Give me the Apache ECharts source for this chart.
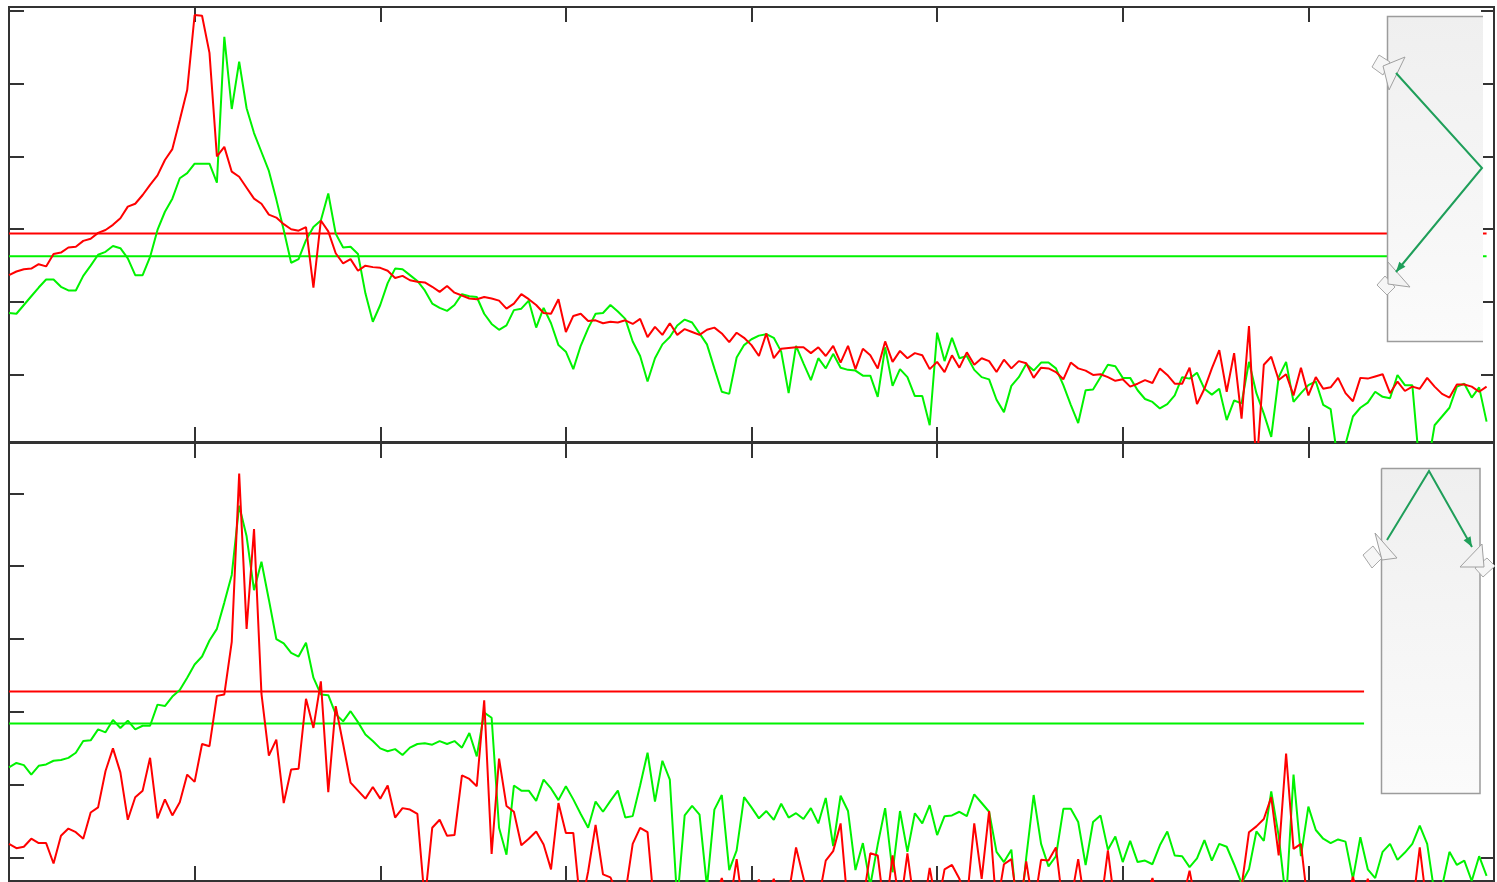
<!DOCTYPE html>
<html>
<head>
<meta charset="utf-8">
<script src="https://cdn.jsdelivr.net/npm/echarts@6/dist/echarts.min.js"></script>
<style>
  html, body { margin: 0; padding: 0; background: #ffffff; }
  #chart { width: 1497px; height: 882px; }
</style>
</head>
<body>
<div id="chart"></div>
<script>
// Spectral bins: 200 bins, 40 Hz apart, x axis in kHz
const BIN_KHZ = 0.04;

// Upper panel (dB)
const topRed = [
  -36.3, -35.8, -35.5, -35.4, -34.8, -35.1, -33.4, -33.2, -32.5, -32.4,
  -31.6, -31.3, -30.5, -30.1, -29.4, -28.5, -26.9, -26.5, -25.3, -23.9,
  -22.6, -20.5, -19.0, -15.0, -10.9, -0.6, -0.7, -5.8, -20.0, -18.7,
  -22.1, -22.8, -24.3, -25.8, -26.5, -28.0, -28.4, -29.3, -30.0, -30.2,
  -29.7, -38.0, -28.8, -30.3, -33.3, -34.7, -34.1, -35.7, -35.0, -35.2,
  -35.3, -35.7, -36.7, -36.4, -37.0, -37.2, -37.3, -37.9, -38.6, -37.8,
  -38.7, -39.1, -39.5, -39.6, -39.3, -39.5, -39.8, -40.9, -40.2, -38.9,
  -39.6, -40.4, -41.5, -41.6, -39.6, -44.1, -41.9, -41.6, -42.6, -42.5,
  -42.9, -42.7, -42.8, -42.5, -43.0, -42.3, -44.8, -43.4, -44.5, -42.9,
  -44.5, -43.7, -44.1, -44.5, -43.8, -43.5, -44.3, -45.5, -44.2, -44.9,
  -45.9, -47.4, -44.3, -47.7, -46.4, -46.3, -46.2, -46.2, -47.0, -46.2,
  -47.4, -46.0, -48.3, -46.0, -49.2, -46.4, -47.3, -49.1, -45.4, -48.2,
  -46.7, -47.7, -47.0, -47.3, -49.2, -48.2, -49.6, -47.3, -49.0, -46.9,
  -48.6, -47.7, -48.1, -49.6, -47.9, -49.1, -48.1, -48.4, -50.4, -49.0,
  -49.1, -49.6, -50.6, -48.3, -49.1, -49.4, -50.0, -49.9, -50.3, -50.8,
  -50.6, -51.6, -51.2, -50.7, -51.1, -49.1, -50.0, -51.2, -51.2, -49.0,
  -54.0, -51.9, -49.1, -46.6, -52.3, -47.0, -56.0, -43.3, -63.0, -48.6,
  -47.5, -50.7, -49.9, -52.8, -49.0, -52.8, -50.3, -51.9, -51.7, -50.4,
  -52.5, -53.6, -50.4, -50.5, -50.2, -49.9, -52.5, -50.9, -52.2, -51.6,
  -51.9, -50.4, -51.6, -52.6, -53.1, -51.3, -51.3, -51.6, -52.3, -51.6
];
const topGreen = [
  -41.5, -41.6, -40.4, -39.2, -38.0, -36.9, -36.9, -37.9, -38.4, -38.4,
  -36.4, -35.0, -33.5, -33.1, -32.3, -32.6, -34.0, -36.3, -36.3, -33.8,
  -30.1, -27.6, -25.8, -23.0, -22.3, -21.0, -21.0, -21.0, -23.6, -3.6,
  -13.5, -7.0, -13.4, -16.8, -19.4, -22.0, -25.9, -30.1, -34.6, -34.1,
  -31.5, -29.7, -28.8, -25.1, -30.6, -32.5, -32.4, -33.4, -38.8, -42.7,
  -40.4, -37.4, -35.4, -35.5, -36.3, -37.1, -38.4, -40.2, -40.8, -41.2,
  -40.4, -38.9, -39.2, -39.3, -41.6, -43.0, -43.8, -43.2, -41.1, -40.9,
  -39.8, -43.5, -40.8, -42.9, -45.9, -46.8, -49.2, -46.0, -43.6, -41.6,
  -41.5, -40.4, -41.3, -42.3, -45.4, -47.4, -50.9, -47.7, -45.8, -44.8,
  -43.2, -42.4, -42.8, -44.3, -45.8, -49.1, -52.3, -52.6, -47.6, -45.9,
  -45.1, -44.6, -44.4, -44.9, -46.8, -52.5, -46.0, -48.4, -50.7, -47.7,
  -49.1, -47.1, -49.0, -49.3, -49.4, -50.1, -50.1, -53.0, -46.2, -51.5,
  -49.2, -50.3, -52.9, -52.9, -56.9, -44.2, -48.1, -44.9, -47.7, -47.4,
  -49.3, -50.3, -50.6, -53.4, -55.1, -51.5, -50.3, -48.5, -49.4, -48.3,
  -48.3, -49.1, -51.4, -54.1, -56.6, -52.1, -52.0, -50.3, -48.6, -48.8,
  -50.4, -50.4, -52.1, -53.3, -53.7, -54.6, -54.0, -52.8, -50.3, -50.5,
  -49.7, -51.9, -52.7, -51.9, -56.2, -53.5, -53.9, -48.2, -52.5, -55.3,
  -58.5, -50.3, -48.2, -53.7, -52.5, -51.4, -50.9, -54.1, -54.7, -62.0,
  -59.5, -55.7, -54.5, -53.8, -52.3, -53.0, -53.2, -50.0, -51.4, -51.4,
  -63.0, -63.0, -56.9, -55.7, -54.5, -51.6, -51.2, -53.1, -51.7, -56.4
];

// Lower panel (dB)
const bottomRed = [
  -48.1, -48.7, -48.5, -47.4, -48.0, -48.0, -50.8, -47.0, -46.0, -46.5,
  -47.4, -43.8, -43.1, -38.1, -35.0, -38.3, -44.8, -41.7, -40.8, -36.3,
  -44.6, -42.0, -44.2, -42.4, -38.6, -39.6, -34.4, -34.7, -27.8, -27.6,
  -20.4, 2.7, -18.6, -4.9, -27.5, -36.0, -33.8, -42.5, -37.9, -37.8,
  -28.2, -32.2, -25.8, -41.0, -29.2, -34.4, -39.7, -40.8, -41.9, -40.3,
  -41.9, -40.1, -44.5, -43.2, -43.4, -44.0, -56.0, -45.9, -44.8, -47.0,
  -46.9, -38.7, -39.2, -40.2, -28.4, -49.5, -36.4, -42.9, -43.7, -48.3,
  -47.4, -46.4, -48.2, -51.6, -42.5, -46.6, -46.6, -57.0, -51.9, -45.5,
  -52.3, -52.7, -55.0, -55.0, -48.1, -45.9, -46.5, -58.0, -60.0, -58.0,
  -57.0, -59.0, -58.0, -60.0, -57.0, -56.0, -52.8, -57.0, -50.2, -58.0,
  -56.0, -53.0, -56.0, -52.9, -57.0, -55.0, -48.6, -52.8, -57.0, -56.0,
  -50.4, -49.1, -45.3, -57.0, -58.0, -56.0, -49.4, -49.7, -58.0, -49.7,
  -57.0, -49.4, -57.0, -58.0, -51.4, -57.0, -51.6, -51.0, -52.9, -56.0,
  -45.3, -52.9, -43.6, -57.0, -50.9, -50.2, -58.0, -50.5, -57.0, -50.3,
  -50.4, -48.6, -57.0, -56.0, -50.2, -57.0, -58.0, -57.0, -49.0, -57.0,
  -58.0, -57.0, -59.0, -56.0, -52.8, -57.0, -58.0, -57.0, -56.0, -51.8,
  -57.0, -58.0, -59.0, -57.0, -58.0, -60.0, -54.0, -46.5, -45.7, -44.7,
  -41.7, -49.7, -35.7, -48.8, -48.1, -57.0, -58.0, -59.0, -57.0, -58.0,
  -57.0, -52.6, -57.0, -52.9, -57.0, -58.0, -59.0, -57.0, -58.0, -57.0,
  -48.6, -57.0, -59.0, -58.0, -57.0, -58.0, -57.0, -59.0, -58.0, -57.0
];
const bottomGreen = [
  -37.6, -37.0, -37.3, -38.6, -37.4, -37.2, -36.7, -36.6, -36.3, -35.6,
  -34.0, -33.9, -32.4, -32.8, -31.1, -32.2, -31.2, -32.4, -31.9, -31.9,
  -29.0, -29.2, -27.9, -27.0, -25.3, -23.5, -22.4, -20.2, -18.6, -15.0,
  -11.2, -1.7, -5.9, -13.3, -9.4, -14.6, -20.0, -20.6, -21.9, -22.4,
  -20.5, -25.3, -27.6, -27.7, -30.3, -31.3, -29.9, -31.4, -33.1, -34.0,
  -35.0, -35.4, -35.1, -35.9, -34.9, -34.4, -34.3, -34.5, -34.0, -34.4,
  -34.0, -34.9, -32.9, -36.1, -30.1, -30.8, -45.9, -49.6, -40.1, -40.8,
  -40.8, -42.2, -39.3, -40.5, -42.1, -40.2, -42.0, -44.0, -45.9, -42.3,
  -43.7, -42.2, -40.8, -44.5, -44.3, -40.1, -35.6, -42.3, -36.7, -39.3,
  -56.0, -44.2, -42.9, -44.1, -54.0, -43.4, -41.4, -51.7, -49.0, -41.7,
  -43.1, -44.6, -43.6, -44.8, -42.6, -44.5, -43.9, -44.7, -43.2, -45.3,
  -41.8, -48.4, -41.5, -43.6, -51.7, -48.0, -53.8, -48.2, -43.2, -52.0,
  -43.6, -49.2, -43.9, -45.3, -42.8, -46.9, -44.3, -44.2, -43.7, -44.3,
  -41.3, -42.5, -43.7, -49.2, -50.6, -48.9, -60.0, -50.0, -41.4, -48.1,
  -51.2, -49.8, -43.3, -43.3, -45.1, -51.0, -45.1, -44.2, -48.9, -47.1,
  -50.6, -47.7, -50.6, -50.4, -50.9, -48.3, -46.4, -49.7, -49.8, -51.3,
  -50.1, -47.6, -50.4, -48.1, -48.5, -50.9, -53.5, -51.6, -46.4, -47.7,
  -40.9, -47.0, -56.0, -38.6, -49.8, -43.0, -46.2, -47.4, -48.0, -47.5,
  -47.8, -52.9, -47.2, -51.6, -52.8, -49.2, -48.1, -50.3, -49.3, -48.1,
  -45.6, -48.1, -55.0, -54.0, -49.2, -51.0, -50.4, -53.2, -49.8, -52.5
];

// Reference levels [red, green] and the frequency where each level line stops
const topLevels = [-30.6, -33.7];
const bottomLevels = [-27.2, -31.6];
const topLevelEndKhz = 7.96;
const bottomLevelEndKhz = 7.3;

// Axis extents and tick positions
const xRange = [0, 8];
const topYRange = [-59.2, 0.5];
const bottomYRange = [-53.2, 6.9];
const yTicks = [-50, -40, -30, -20, -10, 0];
const bottomRightYTicks = [-50];

const RED = '#ff0000';
const GREEN = '#00f200';
const FRAME = '#333333';

const toPairs = arr => arr.map((v, i) => [+(i * BIN_KHZ).toFixed(2), v]);

const tickStyle = { color: FRAME, width: 2 };

function xAxisFor(grid, position) {
  return {
    type: 'value', gridIndex: grid, position,
    min: xRange[0], max: xRange[1], interval: 1,
    axisLine: { show: false, onZero: false },
    axisTick: { show: true, inside: true, length: 15, lineStyle: tickStyle },
    axisLabel: { show: false },
    splitLine: { show: false }
  };
}
function yAxisFor(grid, position, range, ticks, len) {
  return {
    type: 'value', gridIndex: grid, position,
    min: range[0], max: range[1],
    axisLine: { show: false, onZero: false },
    axisTick: { show: true, inside: true, length: len, customValues: ticks, lineStyle: tickStyle },
    axisLabel: { show: false },
    splitLine: { show: false }
  };
}
function spectrum(data, color, xi, yi, z) {
  return {
    type: 'line', data: toPairs(data), xAxisIndex: xi, yAxisIndex: yi,
    showSymbol: false, symbol: 'none', clip: true, z,
    lineStyle: { color, width: 2 }, animation: false
  };
}
function level(value, endKhz, color, xi, yi) {
  return {
    type: 'line', data: [[0, value], [endKhz, value]], xAxisIndex: xi, yAxisIndex: yi,
    showSymbol: false, symbol: 'none', z: 2,
    lineStyle: { color, width: 2 }, animation: false
  };
}

// Decorative key panels with connector arrows
function keyPanel(box, openRight, arrowPts, triangles, diamonds) {
  const [x, y, w, h] = box;
  const items = [];
  items.push({
    type: 'rect', z: 100,
    shape: { x, y, width: w, height: h },
    style: {
      fill: { type: 'linear', x: 0, y: 0, x2: 0, y2: 1,
        colorStops: [{ offset: 0, color: '#efefef' }, { offset: 1, color: '#fbfbfb' }] },
      stroke: null
    }
  });
  const border = openRight
    ? [[x + w, y], [x, y], [x, y + h], [x + w, y + h]]
    : [[x, y], [x + w, y], [x + w, y + h], [x, y + h], [x, y]];
  items.push({ type: 'polyline', z: 101, shape: { points: border },
    style: { stroke: '#9c9c9c', lineWidth: 1.5, fill: null } });
  diamonds.forEach(p => items.push({ type: 'polygon', z: 102, shape: { points: p },
    style: { fill: '#f6f6f6', stroke: '#a8a8a8', lineWidth: 1 } }));
  triangles.forEach(p => items.push({ type: 'polygon', z: 103, shape: { points: p },
    style: { fill: '#f3f3f3', stroke: '#a0a0a0', lineWidth: 1 } }));
  items.push({ type: 'polyline', z: 104, shape: { points: arrowPts },
    style: { stroke: '#1f9f5a', lineWidth: 2, fill: null } });
  // arrowhead at the last point
  const a = arrowPts[arrowPts.length - 2], b = arrowPts[arrowPts.length - 1];
  const dx = b[0] - a[0], dy = b[1] - a[1], L = Math.hypot(dx, dy);
  const ux = dx / L, uy = dy / L, hl = 10, hw = 4;
  const bx = b[0] - ux * hl, by = b[1] - uy * hl;
  items.push({ type: 'polygon', z: 105,
    shape: { points: [b, [bx - uy * hw, by + ux * hw], [bx + uy * hw, by - ux * hw]] },
    style: { fill: '#1f9f5a', stroke: null } });
  return items;
}

const chart = echarts.init(document.getElementById('chart'), null, { renderer: 'canvas' });

chart.setOption({
  animation: false,
  backgroundColor: '#ffffff',
  grid: [
    { left: 9, top: 7, width: 1485, height: 435, show: true, borderColor: FRAME, borderWidth: 2, backgroundColor: 'transparent' },
    { left: 9, top: 443, width: 1485, height: 438, show: true, borderColor: FRAME, borderWidth: 2, backgroundColor: 'transparent' }
  ],
  xAxis: [
    xAxisFor(0, 'bottom'), xAxisFor(0, 'top'),
    xAxisFor(1, 'bottom'), xAxisFor(1, 'top')
  ],
  yAxis: [
    yAxisFor(0, 'left', topYRange, yTicks, 15),
    yAxisFor(0, 'right', topYRange, yTicks, 13),
    yAxisFor(1, 'left', bottomYRange, yTicks, 15),
    yAxisFor(1, 'right', bottomYRange, bottomRightYTicks, 13)
  ],
  series: [
    level(topLevels[0], topLevelEndKhz, RED, 0, 0),
    level(topLevels[1], topLevelEndKhz, GREEN, 0, 0),
    spectrum(topGreen, GREEN, 0, 0, 3),
    spectrum(topRed, RED, 0, 0, 4),
    level(bottomLevels[0], bottomLevelEndKhz, RED, 2, 2),
    level(bottomLevels[1], bottomLevelEndKhz, GREEN, 2, 2),
    spectrum(bottomGreen, GREEN, 2, 2, 3),
    spectrum(bottomRed, RED, 2, 2, 4)
  ],
  graphic: [
    ...keyPanel([1387.5, 16.5, 95.5, 325], true,
      [[1396, 73], [1482, 168], [1396, 272]],
      [[[1383, 66], [1405, 57], [1389, 90]], [[1388, 262], [1410, 287], [1388, 284]]],
      [[[1372, 67], [1379, 55], [1390, 62], [1383, 75]], [[1377, 285], [1385, 276], [1395, 287], [1387, 295]]]),
    ...keyPanel([1381.5, 468.5, 98.5, 325], false,
      [[1387, 540], [1429, 471], [1472, 547]],
      [[[1375, 533], [1397, 558], [1382, 560]], [[1482, 544], [1460, 567], [1484, 567]]],
      [[[1363, 555], [1373, 546], [1382, 558], [1372, 568]], [[1475, 568], [1487, 558], [1495, 566], [1483, 577]]])
  ]
});
</script>
</body>
</html>
